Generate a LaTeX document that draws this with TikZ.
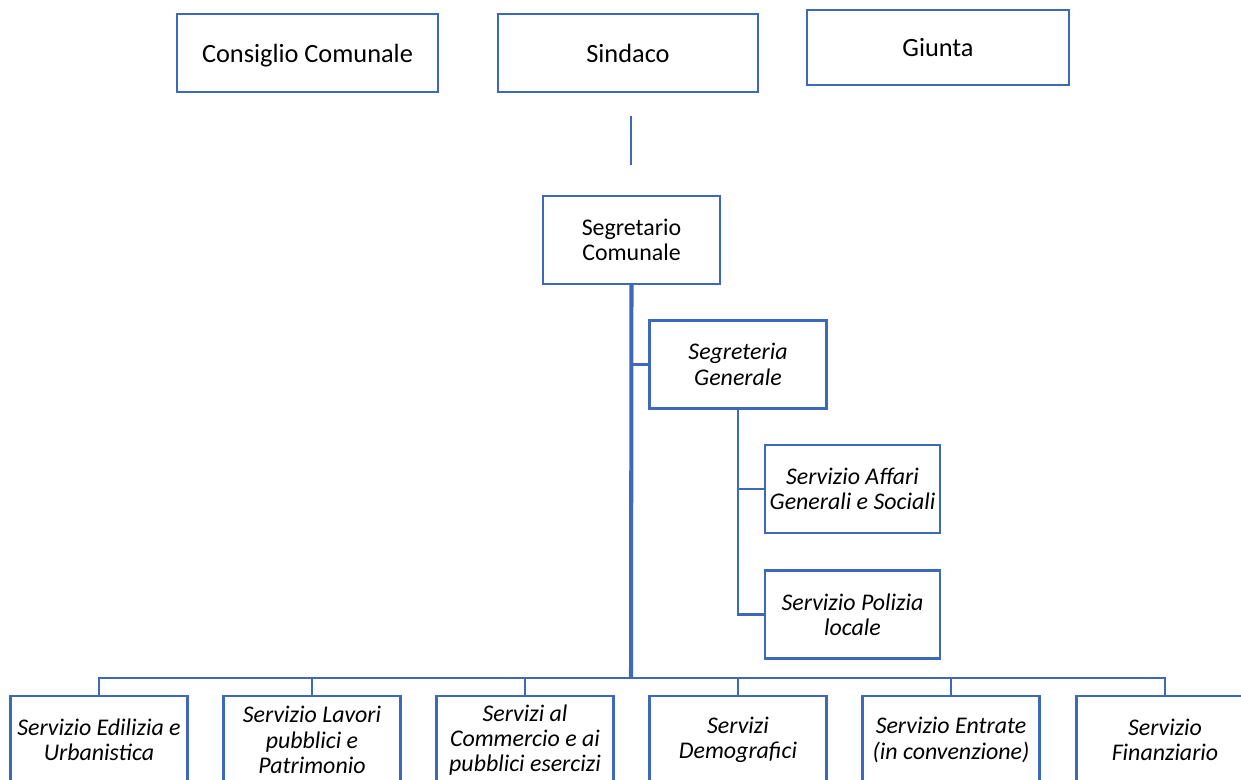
\documentclass[tikz,border=0pt]{standalone}
\usepackage{fontspec}
\setmainfont{Carlito}
\usetikzlibrary{positioning,calc}

\definecolor{bordo}{RGB}{62,104,188}

\begin{document}
\begin{tikzpicture}[x=0.02cm,y=-0.02cm,
    box/.style={rectangle, draw=bordo, line width=1.4pt, fill=white, align=center,
                inner sep=0pt, font=\fontsize{13.6}{14.4}\selectfont},
    organo/.style={box, minimum height=78*0.02cm, text depth=0pt,
                   font=\fontsize{15}{16}\selectfont},
    ufficio/.style={box, minimum width=177*0.02cm, minimum height=88*0.02cm},
    servizio/.style={ufficio, font=\fontsize{13.6}{14.4}\selectfont\itshape},
    link/.style={draw=bordo, line width=1.4pt},
    trunk/.style={draw=bordo, line width=2.3pt}]
    \clip (0,0) rectangle (1241,780);

    % organi politici
    \node[organo, minimum width=261*0.02cm] (consiglio) at (307.5,53) {Consiglio Comunale};
    \node[organo, minimum width=260*0.02cm] (sindaco) at (628,53) {Sindaco};
    \node[organo, minimum width=262*0.02cm, minimum height=75*0.02cm] (giunta) at (938,47.5) {Giunta};

    \coordinate (tratto1) at (631,116);
    \coordinate (tratto2) at (631,165);
    \draw[draw=bordo, line width=0.7pt] (tratto1) -- (tratto2);

    % segreteria
    \node[ufficio] (segretario) at (631.5,240) {Segretario\\Comunale};
    \node[servizio] (segreteria) at (738,364.5) {Segreteria\\Generale};
    \node[servizio, minimum width=175*0.02cm] (affari) at (852.5,489) {Servizio Affari\\Generali e Sociali};
    \node[servizio, minimum width=175*0.02cm] (polizia) at (852.5,614.5) {Servizio Polizia\\locale};

    % servizi
    \node[servizio] (s1) at (99,740) {Servizio Edilizia e\\Urbanistica};
    \node[servizio] (s2) at (312,740) {Servizio Lavori\\pubblici e\\Patrimonio};
    \node[servizio] (s3) at (525,740) {Servizi al\\Commercio e ai\\pubblici esercizi};
    \node[servizio] (s4) at (738,740) {Servizi\\Demografici};
    \node[servizio] (s5) at (951,740) {Servizio Entrate\\(in convenzione)};
    \node[servizio] (s6) at (1165,740) {Servizio\\Finanziario};

    \coordinate (bus) at (631,678);
    \draw[trunk] (segretario.south) -- (bus);
    \draw[link] (segretario.south |- segreteria.west) -- (segreteria.west);
    \draw[link] (segreteria.south) |- (polizia.west);
    \draw[link] (segreteria.south |- affari.west) -- (affari.west);
    \draw[link] (s1.north) |- (bus) -| (s6.north);
    \foreach \s in {s2,s3,s4,s5}
        \draw[link] (\s.north) -- (\s.north |- bus);
\end{tikzpicture}
\end{document}
